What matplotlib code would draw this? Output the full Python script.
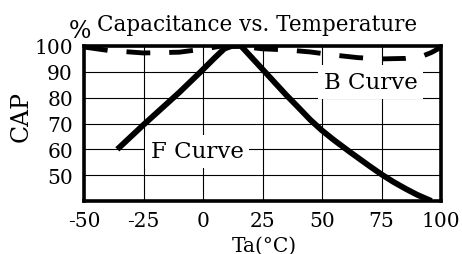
import matplotlib
matplotlib.use('Agg')
import matplotlib.pyplot as plt

plt.rcParams['font.family'] = 'DejaVu Serif'
plt.rcParams['axes.unicode_minus'] = False

# x ticks / y ticks
x_ticks = [-50, -25, 0, 25, 50, 75, 100]
y_ticks = [50, 60, 70, 80, 90, 100]

# F curve (solid)
f_temp = [-36, -25, -10, -1, 5, 9, 12, 16, 20, 25, 30, 35, 40, 45, 50, 55, 62, 70, 75, 80, 85, 90, 96]
f_cap = [60, 69.5, 82, 90, 95.5, 99, 100, 100, 96, 91, 86, 81, 76.3, 71.5, 67.3, 63.6, 58.8, 53.5, 50.3, 47.4, 44.8, 42.4, 40]

# B curve (dashed)
b_temp = [-50, -40, -25, -10, 0, 8, 15, 25, 35, 45, 55, 65, 75, 85, 92, 96, 100]
b_cap = [99.6, 98.3, 97.3, 97.6, 98.8, 100, 100, 98.9, 98.5, 97.7, 96.5, 95.5, 95, 95.2, 96, 97.5, 99.5]

fig = plt.figure(figsize=(4.62, 2.55), dpi=100)
ax = fig.add_axes([84/462, 1-202/255, 357/462, 155/255])

ax.plot(f_temp, f_cap, color='black', lw=4.2, solid_capstyle='butt', zorder=3)
ax.plot(b_temp, b_cap, color='black', lw=3.5, dashes=(4.9, 3.9), zorder=3)

ax.set_xlim(-50, 100)
ax.set_ylim(40, 100)
ax.set_xticks(x_ticks)
ax.set_yticks(y_ticks)
ax.tick_params(length=0, labelsize=14.5)
ax.tick_params(axis='y', pad=8)
ax.tick_params(axis='x', pad=7)
ax.grid(color='black', lw=0.8, zorder=1)
ax.set_axisbelow(True)
for s in ax.spines.values():
    s.set_linewidth(2.6)
    s.set_zorder(4)

box = dict(facecolor='white', edgecolor='none', boxstyle='square,pad=0.25')
ax.text(70.5, 86, 'B Curve', fontsize=16.5, ha='center', va='center', bbox=box, zorder=2)
ax.text(-2.5, 59.2, 'F Curve', fontsize=16.5, ha='center', va='center', bbox=box, zorder=2)

fig.text(257/462, 1-31/255, 'Capacitance vs. Temperature', fontsize=15.5, ha='center', va='baseline')
fig.text(80/462, 1-32/255, '%', fontsize=17, ha='center', va='center')
fig.text(21/462, 1-117/255, 'CAP', fontsize=17, rotation=90, ha='center', va='center')
fig.text(264/462, 1-252/255, 'Ta(°C)', fontsize=14.5, ha='center', va='baseline')

fig.savefig('out.png', dpi=100)
